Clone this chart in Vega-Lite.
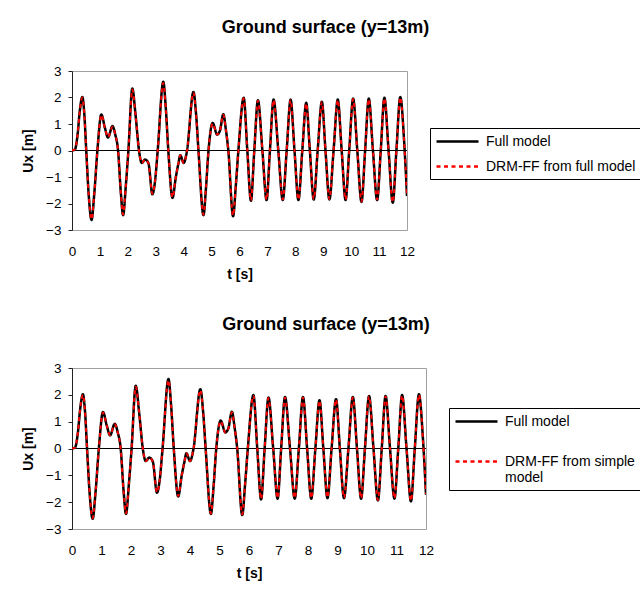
{
  "$schema": "https://vega.github.io/schema/vega-lite/v6.json",
  "padding": {"left": 21, "top": 18, "right": 0, "bottom": 0},
  "background": "white",
  "datasets": {
    "curve": [
      {"t": 0, "full": 0, "ff": 0, "fs": 0},
      {"t": 0.1, "full": 0.03, "ff": 0.03, "fs": 0.03},
      {"t": 0.2, "full": 0.6, "ff": 0.6, "fs": 0.6},
      {"t": 0.28, "full": 1.5, "ff": 1.5, "fs": 1.5},
      {"t": 0.37, "full": 2.02, "ff": 2.0, "fs": 2.0},
      {"t": 0.44, "full": 1.4, "ff": 1.4, "fs": 1.4},
      {"t": 0.51, "full": 0, "ff": 0, "fs": 0},
      {"t": 0.6, "full": -1.7, "ff": -1.7, "fs": -1.7},
      {"t": 0.7, "full": -2.62, "ff": -2.6, "fs": -2.6},
      {"t": 0.8, "full": -1.6, "ff": -1.6, "fs": -1.6},
      {"t": 0.91, "full": 0, "ff": 0, "fs": 0},
      {"t": 1.05, "full": 1.36, "ff": 1.34, "fs": 1.34},
      {"t": 1.18, "full": 0.85, "ff": 0.85, "fs": 0.85},
      {"t": 1.29, "full": 0.49, "ff": 0.5, "fs": 0.5},
      {"t": 1.45, "full": 0.92, "ff": 0.9, "fs": 0.9},
      {"t": 1.55, "full": 0.6, "ff": 0.6, "fs": 0.6},
      {"t": 1.65, "full": 0, "ff": 0, "fs": 0},
      {"t": 1.75, "full": -1.6, "ff": -1.6, "fs": -1.6},
      {"t": 1.83, "full": -2.44, "ff": -2.42, "fs": -2.42},
      {"t": 1.93, "full": -1.3, "ff": -1.3, "fs": -1.3},
      {"t": 2.02, "full": 0, "ff": 0, "fs": 0},
      {"t": 2.16, "full": 2.34, "ff": 2.3, "fs": 2.3},
      {"t": 2.28, "full": 1.3, "ff": 1.3, "fs": 1.3},
      {"t": 2.4, "full": 0, "ff": 0, "fs": 0},
      {"t": 2.5, "full": -0.47, "ff": -0.47, "fs": -0.47},
      {"t": 2.62, "full": -0.34, "ff": -0.34, "fs": -0.34},
      {"t": 2.74, "full": -0.49, "ff": -0.49, "fs": -0.49},
      {"t": 2.88, "full": -1.65, "ff": -1.63, "fs": -1.63},
      {"t": 2.97, "full": -1.2, "ff": -1.2, "fs": -1.2},
      {"t": 3.07, "full": 0, "ff": 0, "fs": 0},
      {"t": 3.27, "full": 2.59, "ff": 2.55, "fs": 2.55},
      {"t": 3.36, "full": 1.6, "ff": 1.6, "fs": 1.6},
      {"t": 3.45, "full": 0, "ff": 0, "fs": 0},
      {"t": 3.6, "full": -1.79, "ff": -1.77, "fs": -1.77},
      {"t": 3.72, "full": -1.0, "ff": -1.0, "fs": -1.0},
      {"t": 3.81, "full": -0.5, "ff": -0.5, "fs": -0.5},
      {"t": 3.88, "full": -0.18, "ff": -0.18, "fs": -0.18},
      {"t": 4.0, "full": -0.47, "ff": -0.47, "fs": -0.47},
      {"t": 4.12, "full": 0, "ff": 0, "fs": 0},
      {"t": 4.35, "full": 2.21, "ff": 2.18, "fs": 2.18},
      {"t": 4.45, "full": 1.3, "ff": 1.3, "fs": 1.3},
      {"t": 4.53, "full": 0, "ff": 0, "fs": 0},
      {"t": 4.71, "full": -2.44, "ff": -2.42, "fs": -2.42},
      {"t": 4.8, "full": -1.4, "ff": -1.4, "fs": -1.4},
      {"t": 4.89, "full": 0, "ff": 0, "fs": 0},
      {"t": 5.04, "full": 1.04, "ff": 1.02, "fs": 1.02},
      {"t": 5.2, "full": 0.6, "ff": 0.6, "fs": 0.6},
      {"t": 5.3, "full": 0.75, "ff": 0.75, "fs": 0.75},
      {"t": 5.42, "full": 1.37, "ff": 1.35, "fs": 1.35},
      {"t": 5.51, "full": 0.8, "ff": 0.8, "fs": 0.8},
      {"t": 5.6, "full": 0, "ff": 0, "fs": 0},
      {"t": 5.77, "full": -2.48, "ff": -2.46, "fs": -2.46},
      {"t": 5.87, "full": -1.3, "ff": -1.3, "fs": -1.3},
      {"t": 5.96, "full": 0, "ff": 0, "fs": 0},
      {"t": 6.15, "full": 1.99, "ff": 1.97, "fs": 1.97},
      {"t": 6.28, "full": 0, "ff": 0, "fs": 0},
      {"t": 6.41, "full": -1.9, "ff": -1.88, "fs": -1.88},
      {"t": 6.53, "full": 0, "ff": 0, "fs": 0},
      {"t": 6.66, "full": 1.9, "ff": 1.88, "fs": 1.88},
      {"t": 6.82, "full": 0, "ff": 0, "fs": 0},
      {"t": 6.97, "full": -1.87, "ff": -1.85, "fs": -1.85},
      {"t": 7.09, "full": 0, "ff": 0, "fs": 0},
      {"t": 7.22, "full": 1.92, "ff": 1.9, "fs": 1.9},
      {"t": 7.39, "full": 0, "ff": 0, "fs": 0},
      {"t": 7.55, "full": -1.87, "ff": -1.85, "fs": -1.85},
      {"t": 7.69, "full": 0, "ff": 0, "fs": 0},
      {"t": 7.83, "full": 1.92, "ff": 1.9, "fs": 1.9},
      {"t": 7.97, "full": 0, "ff": 0, "fs": 0},
      {"t": 8.11, "full": -1.87, "ff": -1.85, "fs": -1.85},
      {"t": 8.25, "full": 0, "ff": 0, "fs": 0},
      {"t": 8.39, "full": 1.8, "ff": 1.78, "fs": 1.78},
      {"t": 8.52, "full": 0, "ff": 0, "fs": 0},
      {"t": 8.66, "full": -1.85, "ff": -1.83, "fs": -1.83},
      {"t": 8.8, "full": 0, "ff": 0, "fs": 0},
      {"t": 8.95, "full": 1.84, "ff": 1.82, "fs": 1.82},
      {"t": 9.08, "full": 0, "ff": 0, "fs": 0},
      {"t": 9.22, "full": -1.85, "ff": -1.83, "fs": -1.83},
      {"t": 9.37, "full": 0, "ff": 0, "fs": 0},
      {"t": 9.52, "full": 1.92, "ff": 1.9, "fs": 1.9},
      {"t": 9.66, "full": 0, "ff": 0, "fs": 0},
      {"t": 9.8, "full": -1.87, "ff": -1.85, "fs": -1.85},
      {"t": 9.93, "full": 0, "ff": 0, "fs": 0},
      {"t": 10.07, "full": 1.96, "ff": 1.94, "fs": 1.94},
      {"t": 10.22, "full": 0, "ff": 0, "fs": 0},
      {"t": 10.37, "full": -1.94, "ff": -1.92, "fs": -1.92},
      {"t": 10.5, "full": 0, "ff": 0, "fs": 0},
      {"t": 10.63, "full": 1.96, "ff": 1.94, "fs": 1.94},
      {"t": 10.78, "full": 0, "ff": 0, "fs": 0},
      {"t": 10.93, "full": -1.87, "ff": -1.85, "fs": -1.85},
      {"t": 11.06, "full": 0, "ff": 0, "fs": 0},
      {"t": 11.19, "full": 1.99, "ff": 1.97, "fs": 1.97},
      {"t": 11.34, "full": 0, "ff": 0, "fs": 0},
      {"t": 11.49, "full": -1.97, "ff": -1.95, "fs": -1.95},
      {"t": 11.62, "full": 0, "ff": 0, "fs": 0},
      {"t": 11.76, "full": 2.02, "ff": 2.0, "fs": 2.0},
      {"t": 11.9, "full": 0.3, "ff": 0.3, "fs": 0.3},
      {"t": 12.0, "full": -1.72, "ff": -1.7, "fs": -1.7}
    ]
  },
  "vconcat": [
    {
      "width": 335,
      "height": 159,
      "title": {"text": "Ground surface (y=13m)", "dx": 86},
      "data": {"name": "curve"},
      "encoding": {
        "x": {"field": "t", "type": "quantitative", "scale": {"domain": [0, 12], "nice": false, "zero": false}, "axis": {"title": "t [s]", "values": [0,1,2,3,4,5,6,7,8,9,10,11,12], "format": "d", "labelOverlap": false, "labelFlush": false}}
      },
      "layer": [
        {"mark": {"type": "rule", "color": "#000000", "strokeWidth": 1}, "encoding": {"x": null, "y": {"datum": 0, "type": "quantitative", "scale": {"domain": [-3, 3], "nice": false}, "axis": {"title": "Ux [m]", "values": [-3,-2,-1,0,1,2,3], "format": "d", "labelOverlap": false, "labelFlush": false}}}},
        {
          "mark": {"type": "line", "interpolate": "monotone", "strokeWidth": 2.5, "clip": true},
          "encoding": {
            "y": {"field": "full", "type": "quantitative", "axis": {"title": "Ux [m]", "values": [-3,-2,-1,0,1,2,3], "format": "d", "labelOverlap": false, "labelFlush": false}},
            "color": {"datum": "Full model", "scale": {"domain": ["Full model", "DRM-FF from full model"], "range": ["#000000", "#ff0000"]}, "legend": {"title": null, "orient": "none", "legendX": 358, "legendY": 57, "rowPadding": 9}},
            "strokeDash": {"datum": "Full model", "scale": {"domain": ["Full model", "DRM-FF from full model"], "range": [[1, 0], [4, 3.5]]}, "legend": {"title": null, "orient": "none", "legendX": 358, "legendY": 57, "rowPadding": 9}}
          }
        },
        {
          "mark": {"type": "line", "interpolate": "monotone", "strokeWidth": 2, "clip": true},
          "encoding": {
            "y": {"field": "ff", "type": "quantitative", "axis": {"title": "Ux [m]", "values": [-3,-2,-1,0,1,2,3], "format": "d", "labelOverlap": false, "labelFlush": false}},
            "color": {"datum": "DRM-FF from full model"},
            "strokeDash": {"datum": "DRM-FF from full model"}
          }
        }
      ]
    },
    {
      "width": 354,
      "height": 161,
      "title": {"text": "Ground surface (y=13m)", "dx": 77},
      "data": {"name": "curve"},
      "encoding": {
        "x": {"field": "t", "type": "quantitative", "scale": {"domain": [0, 12], "nice": false, "zero": false}, "axis": {"title": "t [s]", "values": [0,1,2,3,4,5,6,7,8,9,10,11,12], "format": "d", "labelOverlap": false, "labelFlush": false}}
      },
      "layer": [
        {"mark": {"type": "rule", "color": "#000000", "strokeWidth": 1}, "encoding": {"x": null, "y": {"datum": 0, "type": "quantitative", "scale": {"domain": [-3, 3], "nice": false}, "axis": {"title": "Ux [m]", "values": [-3,-2,-1,0,1,2,3], "format": "d", "labelOverlap": false, "labelFlush": false}}}},
        {
          "mark": {"type": "line", "interpolate": "monotone", "strokeWidth": 2.5, "clip": true},
          "encoding": {
            "y": {"field": "full", "type": "quantitative", "axis": {"title": "Ux [m]", "values": [-3,-2,-1,0,1,2,3], "format": "d", "labelOverlap": false, "labelFlush": false}},
            "color": {"datum": "Full model", "scale": {"domain": ["Full model", "DRM-FF from simple model"], "range": ["#000000", "#ff0000"]}, "legend": {"title": null, "orient": "none", "legendX": 377, "legendY": 40, "rowPadding": 24, "labelExpr": "datum.label == 'DRM-FF from simple model' ? ['DRM-FF from simple', 'model'] : datum.label"}},
            "strokeDash": {"datum": "Full model", "scale": {"domain": ["Full model", "DRM-FF from simple model"], "range": [[1, 0], [4, 3.5]]}, "legend": {"title": null, "orient": "none", "legendX": 377, "legendY": 40, "rowPadding": 24, "labelExpr": "datum.label == 'DRM-FF from simple model' ? ['DRM-FF from simple', 'model'] : datum.label"}}
          }
        },
        {
          "mark": {"type": "line", "interpolate": "monotone", "strokeWidth": 2, "clip": true},
          "encoding": {
            "y": {"field": "fs", "type": "quantitative", "axis": {"title": "Ux [m]", "values": [-3,-2,-1,0,1,2,3], "format": "d", "labelOverlap": false, "labelFlush": false}},
            "color": {"datum": "DRM-FF from simple model"},
            "strokeDash": {"datum": "DRM-FF from simple model"}
          }
        }
      ]
    }
  ],
  "spacing": 33,
  "resolve": {"scale": {"color": "independent", "strokeDash": "independent", "x": "independent", "y": "independent"}, "legend": {"color": "independent", "strokeDash": "independent"}},
  "config": {
    "font": "Liberation Sans",
    "view": {"stroke": "#a0a0a0", "strokeWidth": 1},
    "title": {"fontSize": 18, "fontWeight": "bold", "font": "Liberation Sans", "color": "#000000", "anchor": "middle", "offset": 27},
    "axis": {"grid": false, "labelOverlap": false, "labelFont": "Liberation Sans", "labelFontSize": 13.5, "labelColor": "#000000", "titleFont": "Liberation Sans", "titleFontSize": 14, "titleFontWeight": "bold", "titleColor": "#000000"},
    "axisX": {"ticks": false, "domain": false, "labelPadding": 14, "titlePadding": 10, "labelFlush": false},
    "axisY": {"domainColor": "#222222", "tickColor": "#222222", "tickSize": 4, "labelPadding": 7, "titlePadding": 10},
    "legend": {"strokeColor": "#000000", "fillColor": "#ffffff", "padding": 5, "labelFont": "Liberation Sans", "labelFontSize": 14, "labelColor": "#000000", "symbolType": "M-1,0H5", "symbolSize": 196, "symbolStrokeWidth": 2.5, "labelOffset": 34, "labelLimit": 300, "cornerRadius": 0}
  }
}
